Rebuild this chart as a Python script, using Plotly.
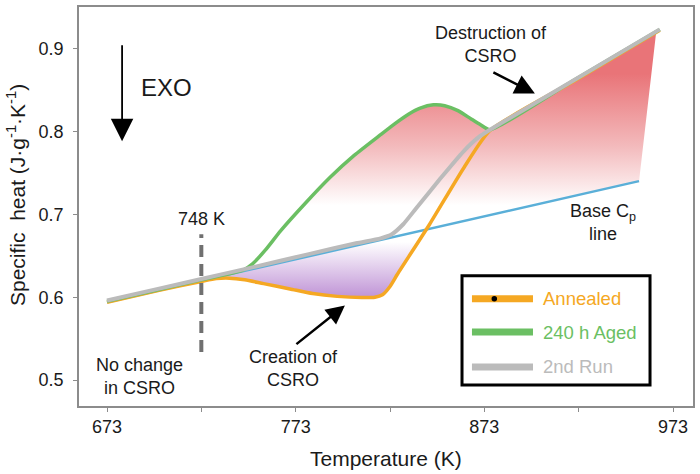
import numpy as np
import plotly.graph_objects as go

# temperature (K) and specific heat (J/g/K)
T_base = [673, 955]
cp_base = [0.594, 0.740]

T_run2 = [673, 700, 723, 750, 780, 805, 818, 824, 830, 837, 850, 862, 870, 876, 920, 966]
cp_run2 = [0.596, 0.610, 0.622, 0.636, 0.652, 0.665, 0.671, 0.676, 0.688, 0.7076, 0.744, 0.776, 0.793, 0.802, 0.861, 0.923]

T_aged = [673, 700, 723, 745, 750, 757, 765, 778, 791, 804, 818, 826, 833, 839, 846, 852, 859, 866, 871, 876, 920, 966]
cp_aged = [0.595, 0.609, 0.621, 0.6325, 0.640, 0.657, 0.680, 0.713, 0.744, 0.771, 0.796, 0.810, 0.821, 0.828, 0.832, 0.831, 0.825, 0.815, 0.808, 0.802, 0.861, 0.923]

T_ann = [673, 700, 723, 731, 738, 746, 756, 770, 782, 795, 808, 815, 819, 823, 827, 844, 862, 876, 920, 966]
cp_ann = [0.594, 0.608, 0.619, 0.6225, 0.623, 0.621, 0.6164, 0.610, 0.6044, 0.601, 0.5996, 0.600, 0.603, 0.613, 0.628, 0.688, 0.7556, 0.801, 0.860, 0.922]

T_onset = 723          # where the dashed "748 K" marker sits on the axis
onset_cp = [0.534, 0.676]

x_ticks = [673, 723, 773, 823, 873, 923, 973]
x_labels = ["673", "", "773", "", "873", "", "973"]
y_ticks = [0.5, 0.6, 0.7, 0.8, 0.9]

series_names = ["Annealed", "240 h Aged", "2nd Run"]

ORANGE = "#F5A823"
GREEN = "#6BBF63"
GREY = "#BBBBBB"
BLUE = "#5AAFD8"
FONT = "Arial, Liberation Sans, sans-serif"
INK = "#1a1a1a"

fig = go.Figure()

# red region: aged curve + 2nd run above the base line
T_aged_a = np.array(T_aged)
T_run2_a = np.array(T_run2)
m1 = (T_aged_a >= 745) & (T_aged_a <= 876)
m2 = (T_run2_a > 876)
red_x = list(T_aged_a[m1]) + list(T_run2_a[m2][:-1]) + [964, T_base[-1]]
red_y = list(np.array(cp_aged)[m1]) + list(np.array(cp_run2)[m2][:-1]) + [0.918, cp_base[-1]]
fig.add_trace(go.Scatter(
    x=red_x, y=red_y, mode="none", fill="toself",
    fillgradient=dict(type="vertical", start=0.712, stop=0.87,
                      colorscale=[[0, "rgb(255,255,255)"], [0.45, "rgb(243,186,188)"],
                                  [1, "rgb(233,116,120)"]]),
    showlegend=False, hoverinfo="skip"))

# purple region: annealed dip below the base line
T_ann_a = np.array(T_ann)
m3 = (T_ann_a >= 723) & (T_ann_a <= 844)
fig.add_trace(go.Scatter(
    x=list(T_ann_a[m3]), y=list(np.array(cp_ann)[m3]), mode="none", fill="toself",
    fillgradient=dict(type="vertical", start=0.600, stop=0.668,
                      colorscale=[[0, "rgb(190,145,213)"], [1, "rgb(255,255,255)"]]),
    showlegend=False, hoverinfo="skip"))

fig.add_trace(go.Scatter(x=T_base, y=cp_base, mode="lines",
                         line=dict(color=BLUE, width=2.5), showlegend=False))
fig.add_trace(go.Scatter(x=T_ann, y=cp_ann, mode="lines",
                         line=dict(color=ORANGE, width=3.5, shape="spline", smoothing=0.6),
                         showlegend=False))
fig.add_trace(go.Scatter(x=T_aged, y=cp_aged, mode="lines",
                         line=dict(color=GREEN, width=3.5, shape="spline", smoothing=0.6),
                         showlegend=False))
fig.add_trace(go.Scatter(x=T_run2, y=cp_run2, mode="lines",
                         line=dict(color=GREY, width=4, shape="spline", smoothing=0.6),
                         showlegend=False))

fig.add_trace(go.Scatter(x=[T_onset, T_onset], y=onset_cp, mode="lines",
                         line=dict(color="#707070", width=4, dash="12px,7px"),
                         showlegend=False))

# legend box drawn by hand (thick samples, coloured labels)
fig.add_shape(type="rect", xref="paper", yref="paper", x0=0.6238, x1=0.930, y0=0.0524, y1=0.3267,
              line=dict(color="black", width=3), fillcolor="white", layer="above")
leg_y = [0.2686, 0.1853, 0.0980]
for name, col, yy in zip(series_names, [ORANGE, GREEN, GREY], leg_y):
    fig.add_shape(type="line", xref="paper", yref="paper", x0=0.640, x1=0.7394, y0=yy, y1=yy,
                  line=dict(color=col, width=7), layer="above")
    fig.add_annotation(xref="paper", yref="paper", x=0.7524, y=yy, text=name,
                       xanchor="left", yanchor="middle", showarrow=False,
                       font=dict(family=FONT, size=18.5, color=col))
fig.add_shape(type="circle", xref="paper", yref="paper", x0=0.6764 - 0.0045, x1=0.6764 + 0.0045,
              y0=leg_y[0] - 0.0068, y1=leg_y[0] + 0.0068, fillcolor="black",
              line=dict(width=0), layer="above")

txt = dict(font=dict(family=FONT, size=18, color=INK), showarrow=False)
fig.add_annotation(x=723, y=0.6945, text="748 K", **txt)
fig.add_annotation(x=690, y=0.504, text="No change<br>in CSRO", **txt)
fig.add_annotation(x=771.7, y=0.5144, text="Creation of<br>CSRO", **txt)
fig.add_annotation(x=876.5, y=0.905, text="Destruction of<br>CSRO", **txt)
fig.add_annotation(x=935.7, y=0.6902, text="Base C<sub>p</sub><br>line", **txt)
fig.add_annotation(x=681, y=0.8528, text="EXO", xanchor="left", xshift=17,
                   font=dict(family=FONT, size=24, color=INK), showarrow=False)

arr = dict(xref="x", yref="y", axref="x", ayref="y", text="", showarrow=True,
           arrowhead=2, arrowcolor="black")
fig.add_annotation(x=681, y=0.788, ax=681, ay=0.9056, arrowwidth=1.8, arrowsize=2.5, **arr)
fig.add_annotation(x=799.1, y=0.590, ax=772.6, ay=0.542, arrowwidth=2.5, arrowsize=1.5, **arr)
fig.add_annotation(x=899.8, y=0.8456, ax=877, ay=0.872, arrowwidth=2.5, arrowsize=1.6, **arr)

# axis titles
fig.add_annotation(xref="paper", yref="paper", x=0.5, y=-0.132, xanchor="center", yanchor="middle",
                   text="Temperature (K)", font=dict(family=FONT, size=21, color=INK), showarrow=False)
fig.add_annotation(xref="paper", yref="paper", x=-0.1026, y=0.5287, xanchor="center", yanchor="middle",
                   textangle=-90, text="Specific  heat (J·g<sup>-1</sup>·K<sup>-1</sup>)",
                   font=dict(family=FONT, size=21, color=INK), showarrow=False)

axis = dict(showgrid=False, zeroline=False, showline=True, mirror=True,
            linecolor="#8c8c8c", linewidth=1.5, ticks="outside", ticklen=4,
            tickcolor="#8c8c8c", tickfont=dict(family=FONT, size=18, color=INK))
fig.update_xaxes(range=[658.16, 983.6], tickvals=x_ticks, ticktext=x_labels, **axis)
fig.update_yaxes(range=[0.4688, 0.95], tickvals=y_ticks, ticktext=["0.5", "0.6", "0.7", "0.8", "0.9"],
                 ticklabelstandoff=6, **axis)

fig.update_layout(
    width=700, height=474,
    margin=dict(l=79, r=7, t=5, b=68),
    plot_bgcolor="white", paper_bgcolor="white",
    font=dict(family=FONT),
    showlegend=False,
)

fig.write_html("out.html", config={"displayModeBar": False},
               post_script="document.body.style.margin='0px';")
